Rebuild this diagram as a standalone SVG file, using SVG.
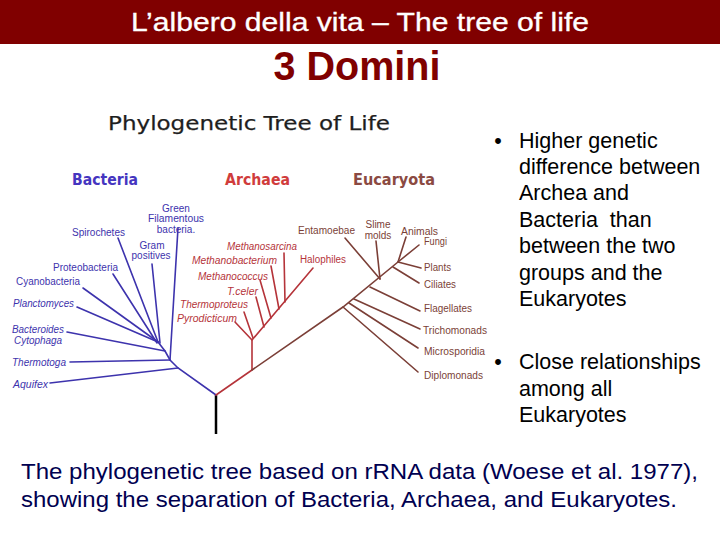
<svg xmlns="http://www.w3.org/2000/svg" width="720" height="540" viewBox="0 0 720 540">
<style>
.hdr{font-family:"Liberation Sans",Arial,sans-serif;font-size:25px;fill:#ffffff;stroke:#ffffff;stroke-width:0.3}
.sub{font-family:"Liberation Sans",Arial,sans-serif;font-size:40px;font-weight:bold;fill:#800000}
.ttl{font-family:"DejaVu Sans",Verdana,sans-serif;font-size:20px;fill:#1e1e1e;stroke:#1e1e1e;stroke-width:0.25}
.dom{font-family:"DejaVu Sans",Verdana,sans-serif;font-size:15px;font-weight:bold}
.lb{font-family:"Liberation Sans",Arial,sans-serif;font-size:10px}
.it{font-style:italic}
.b{fill:#3d33ad}
.a{fill:#b5343a}
.e{fill:#7b3f37}
.bul{font-family:"Liberation Sans",Arial,sans-serif;font-size:21.5px;fill:#000000}
.cap{font-family:"Liberation Sans",Arial,sans-serif;font-size:21.5px;fill:#000050}
.lnb{stroke:#3d33ad;stroke-width:1.6;fill:none;stroke-linecap:round}
.lna{stroke:#b5343a;stroke-width:1.6;fill:none;stroke-linecap:round}
.lne{stroke:#7b3f37;stroke-width:1.6;fill:none;stroke-linecap:round}
.lnr{stroke:#000000;stroke-width:2.5;fill:none}
</style>
<rect x="0" y="0" width="720" height="540" fill="#ffffff"/>
<g id="header">
<rect x="0" y="0" width="720" height="44" fill="#800000"/>
<text class="hdr" x="360" y="31" text-anchor="middle" textLength="458" lengthAdjust="spacingAndGlyphs">L’albero della vita – The tree of life</text>
</g>
<g id="subtitle"><text class="sub" x="357" y="80" text-anchor="middle" textLength="167" lengthAdjust="spacingAndGlyphs">3 Domini</text></g>
<g id="tree-title"><text class="ttl" x="108" y="130" textLength="282" lengthAdjust="spacingAndGlyphs">Phylogenetic Tree of Life</text></g>
<g id="domains">
<text class="dom" x="72" y="185" fill="#4535c0" textLength="66" lengthAdjust="spacingAndGlyphs">Bacteria</text>
<text class="dom" x="225" y="185" fill="#d03c3c" textLength="65" lengthAdjust="spacingAndGlyphs">Archaea</text>
<text class="dom" x="353" y="185" fill="#8b4a42" textLength="82" lengthAdjust="spacingAndGlyphs">Eucaryota</text>
</g>
<g id="connectors">
<line class="lnr" x1="216" y1="395" x2="216" y2="434"/>
<polyline class="lnb" points="216,395 178,368 170,360 165,351 158,342"/>
<line class="lnb" x1="118" y1="238" x2="158" y2="342"/>
<line class="lnb" x1="113" y1="274" x2="157" y2="343"/>
<line class="lnb" x1="83" y1="288" x2="158" y2="342"/>
<line class="lnb" x1="77" y1="307" x2="158" y2="342"/>
<line class="lnb" x1="67" y1="332" x2="165" y2="351"/>
<line class="lnb" x1="70" y1="362" x2="170" y2="360"/>
<line class="lnb" x1="50" y1="383" x2="178" y2="368"/>
<line class="lnb" x1="152" y1="264" x2="160" y2="343"/>
<line class="lnb" x1="178" y1="228" x2="170" y2="360"/>
<polyline class="lna" points="216,395 252,370 252,340 313,268"/>
<line class="lna" x1="244" y1="312" x2="253" y2="338"/>
<line class="lna" x1="235" y1="322" x2="252" y2="340"/>
<line class="lna" x1="256" y1="297" x2="264" y2="327"/>
<line class="lna" x1="260" y1="280" x2="271" y2="318"/>
<line class="lna" x1="271" y1="266" x2="279" y2="309"/>
<line class="lna" x1="284" y1="253" x2="285" y2="302"/>
<polyline class="lne" points="252,370 343,307 398,262 419,245"/>
<line class="lne" x1="343" y1="307" x2="418" y2="372"/>
<line class="lne" x1="349" y1="303" x2="418" y2="348"/>
<line class="lne" x1="354" y1="299" x2="420" y2="329"/>
<line class="lne" x1="370" y1="287" x2="420" y2="311"/>
<line class="lne" x1="380" y1="279" x2="345" y2="238"/>
<line class="lne" x1="380" y1="279" x2="376" y2="241"/>
<line class="lne" x1="393" y1="267" x2="419" y2="283"/>
<line class="lne" x1="398" y1="262" x2="421" y2="268"/>
<line class="lne" x1="398" y1="262" x2="406" y2="237"/>
</g>
<g id="n-green"><text class="lb b" x="176" y="212" text-anchor="middle">Green</text><text class="lb b" x="176" y="222" text-anchor="middle" textLength="56" lengthAdjust="spacingAndGlyphs">Filamentous</text><text class="lb b" x="176" y="233" text-anchor="middle">bacteria.</text></g>
<g id="n-spirochetes"><text class="lb b" x="72" y="236" textLength="53" lengthAdjust="spacingAndGlyphs">Spirochetes</text></g>
<g id="n-gram"><text class="lb b" x="152" y="249" text-anchor="middle">Gram</text><text class="lb b" x="151" y="259" text-anchor="middle">positives</text></g>
<g id="n-proteobacteria"><text class="lb b" x="53" y="271" textLength="65" lengthAdjust="spacingAndGlyphs">Proteobacteria</text></g>
<g id="n-cyanobacteria"><text class="lb b" x="16" y="285" textLength="64" lengthAdjust="spacingAndGlyphs">Cyanobacteria</text></g>
<g id="n-planctomyces"><text class="lb it b" x="13" y="307" textLength="61" lengthAdjust="spacingAndGlyphs">Planctomyces</text></g>
<g id="n-bacteroides"><text class="lb it b" x="12" y="333" textLength="52" lengthAdjust="spacingAndGlyphs">Bacteroides</text><text class="lb it b" x="14" y="344" textLength="48" lengthAdjust="spacingAndGlyphs">Cytophaga</text></g>
<g id="n-thermotoga"><text class="lb it b" x="12" y="366" textLength="54" lengthAdjust="spacingAndGlyphs">Thermotoga</text></g>
<g id="n-aquifex"><text class="lb it b" x="13" y="388" textLength="35" lengthAdjust="spacingAndGlyphs">Aquifex</text></g>
<g id="n-methanosarcina"><text class="lb it a" x="227" y="250" textLength="70" lengthAdjust="spacingAndGlyphs">Methanosarcina</text></g>
<g id="n-methanobacterium"><text class="lb it a" x="192" y="264" textLength="85" lengthAdjust="spacingAndGlyphs">Methanobacterium</text></g>
<g id="n-halophiles"><text class="lb a" x="300" y="263" textLength="46" lengthAdjust="spacingAndGlyphs">Halophiles</text></g>
<g id="n-methanococcus"><text class="lb it a" x="198" y="280" textLength="70" lengthAdjust="spacingAndGlyphs">Methanococcus</text></g>
<g id="n-tceler"><text class="lb it a" x="227" y="295" textLength="31" lengthAdjust="spacingAndGlyphs">T.celer</text></g>
<g id="n-thermoproteus"><text class="lb it a" x="180" y="308" textLength="68" lengthAdjust="spacingAndGlyphs">Thermoproteus</text></g>
<g id="n-pyrodicticum"><text class="lb it a" x="177" y="322" textLength="60" lengthAdjust="spacingAndGlyphs">Pyrodicticum</text></g>
<g id="n-entamoebae"><text class="lb e" x="298" y="234" textLength="57" lengthAdjust="spacingAndGlyphs">Entamoebae</text></g>
<g id="n-slime"><text class="lb e" x="378" y="228" text-anchor="middle">Slime</text><text class="lb e" x="378" y="239" text-anchor="middle">molds</text></g>
<g id="n-animals"><text class="lb e" x="401" y="235" textLength="37" lengthAdjust="spacingAndGlyphs">Animals</text></g>
<g id="n-fungi"><text class="lb e" x="424" y="245" textLength="23" lengthAdjust="spacingAndGlyphs">Fungi</text></g>
<g id="n-plants"><text class="lb e" x="424" y="271" textLength="27" lengthAdjust="spacingAndGlyphs">Plants</text></g>
<g id="n-ciliates"><text class="lb e" x="424" y="288" textLength="32" lengthAdjust="spacingAndGlyphs">Ciliates</text></g>
<g id="n-flagellates"><text class="lb e" x="424" y="312" textLength="48" lengthAdjust="spacingAndGlyphs">Flagellates</text></g>
<g id="n-trichomonads"><text class="lb e" x="423" y="334" textLength="64" lengthAdjust="spacingAndGlyphs">Trichomonads</text></g>
<g id="n-microsporidia"><text class="lb e" x="424" y="355" textLength="61" lengthAdjust="spacingAndGlyphs">Microsporidia</text></g>
<g id="n-diplomonads"><text class="lb e" x="424" y="379" textLength="59" lengthAdjust="spacingAndGlyphs">Diplomonads</text></g>
<g id="bullets">
<text class="bul" x="498" y="148" text-anchor="middle">•</text>
<text class="bul" x="519" y="148">Higher genetic</text>
<text class="bul" x="519" y="174">difference between</text>
<text class="bul" x="519" y="200">Archea and</text>
<text class="bul" x="519" y="227" xml:space="preserve">Bacteria  than</text>
<text class="bul" x="519" y="253">between the two</text>
<text class="bul" x="519" y="280">groups and the</text>
<text class="bul" x="519" y="306">Eukaryotes</text>
<text class="bul" x="498" y="369" text-anchor="middle">•</text>
<text class="bul" x="519" y="369">Close relationships</text>
<text class="bul" x="519" y="396">among all</text>
<text class="bul" x="519" y="422">Eukaryotes</text>
</g>
<g id="caption">
<text class="cap" x="21" y="479" textLength="677" lengthAdjust="spacingAndGlyphs">The phylogenetic tree based on rRNA data (Woese et al. 1977),</text>
<text class="cap" x="21" y="507" textLength="656" lengthAdjust="spacingAndGlyphs">showing the separation of Bacteria, Archaea, and Eukaryotes.</text>
</g>
</svg>
